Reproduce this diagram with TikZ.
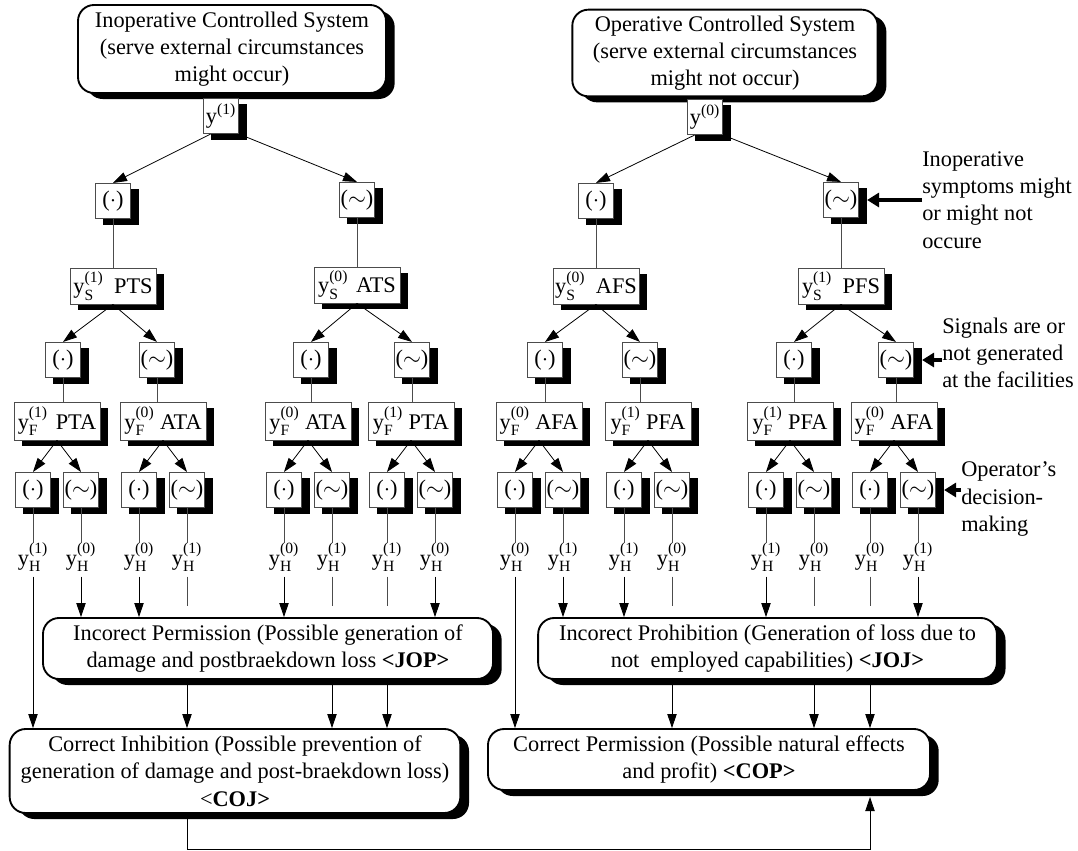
\documentclass[tikz,border=0pt]{standalone}
\usepackage{amsmath}
\usepackage{fontspec}
\setmainfont{Liberation Serif}
\usetikzlibrary{arrows.meta,shadows}

\newcommand{\ylab}[2]{$\mathrm{y}^{\text{(#1)}}_{\text{#2}}$}

\tikzset{
    sbox/.style={draw=black!70, line width=0.6pt, fill=white, inner sep=0pt,
        minimum width=26.5pt, minimum height=26.5pt,
        drop shadow={shadow xshift=6pt, shadow yshift=-4.5pt, fill=black, opacity=1}},
    symbox/.style={sbox, minimum width=64.5pt, minimum height=27pt},
    facbox/.style={sbox, minimum width=64.5pt, minimum height=28.5pt},
    rbox/.style={draw, line width=1.4pt, fill=white, rounded corners=12pt,
        align=center, inner sep=2pt,
        drop shadow={shadow xshift=6.5pt, shadow yshift=-4.5pt, fill=black, opacity=1}},
    hlab/.style={inner sep=0pt},
    ann/.style={align=left, anchor=west, inner sep=0pt},
    arr/.style={-{Triangle[length=10.5pt,width=7pt]}, line width=0.6pt},
    ln/.style={line width=0.6pt, black!70},
    annarr/.style={-{Triangle[length=9pt,width=10.5pt]}, line width=2.8pt}
}

\begin{document}
\begin{tikzpicture}[x=0.75pt, y=-0.75pt, font=\fontsize{16.75}{20.5}\selectfont]
    \useasboundingbox (0,0) rectangle (1078,850);

    \node[rbox, minimum width=231pt, minimum height=66pt] (sysL) at (232,49)
        {Inoperative Controlled System\\(serve external circumstances\\might occur)};
    \node[rbox, minimum width=229pt, minimum height=65pt] (sysR) at (725,53)
        {Operative Controlled System\\(serve external circumstances\\might not occur)};

    \node[sbox] (yL) at (221,116) {$\mathrm{y}^{\text{(1)}}$};
    \node[sbox] (yR) at (705,117) {$\mathrm{y}^{\text{(0)}}$};

    \node[sbox] (aL) at (113,201) {($\cdot$)};
    \node[sbox] (bL) at (357,200) {($\sim$)};
    \node[sbox] (aR) at (596,201) {($\cdot$)};
    \node[sbox] (bR) at (841,200) {($\sim$)};

    \node[symbox] (sL1) at (113,286) {\ylab{1}{S}\hspace{8pt}PTS};
    \node[symbox] (sL2) at (357,285) {\ylab{0}{S}\hspace{6pt}ATS};
    \node[symbox] (sR1) at (596,286) {\ylab{0}{S}\hspace{8pt}AFS};
    \node[symbox] (sR2) at (841,286) {\ylab{1}{S}\hspace{8pt}PFS};

    \node[sbox] (cL1) at (63,360) {($\cdot$)};
    \node[sbox] (cL2) at (157,360) {($\sim$)};
    \node[sbox] (cL3) at (311,360) {($\cdot$)};
    \node[sbox] (cL4) at (412,360) {($\sim$)};
    \node[sbox] (cR1) at (545,360) {($\cdot$)};
    \node[sbox] (cR2) at (640,360) {($\sim$)};
    \node[sbox] (cR3) at (794,360) {($\cdot$)};
    \node[sbox] (cR4) at (896,360) {($\sim$)};

    \node[facbox] (fL1) at (57,421) {\ylab{1}{F}\hspace{6pt}PTA};
    \node[facbox] (fL2) at (163,421) {\ylab{0}{F} ATA};
    \node[facbox] (fL3) at (308,421) {\ylab{0}{F} ATA};
    \node[facbox] (fL4) at (411,421) {\ylab{1}{F} PTA};
    \node[facbox] (fR1) at (539,421) {\ylab{0}{F} AFA};
    \node[facbox] (fR2) at (648,421) {\ylab{1}{F} PFA};
    \node[facbox] (fR3) at (790,421) {\ylab{1}{F} PFA};
    \node[facbox] (fR4) at (894,421) {\ylab{0}{F} AFA};

    \foreach \x/\v [count=\i] in {33/1,81/0,139/0,187/1,284/0,332/1,387/1,435/0,
                                  515/0,563/1,624/1,672/0,766/1,814/0,870/0,918/1} {
        \node[sbox] (l\i) at (\x,490) {\ifodd\i ($\cdot$)\else ($\sim$)\fi};
        \node[hlab] (h\i) at (\x,557) {\ylab{\v}{H}};
        \draw[ln] (l\i.south) -- (h\i.north);
    }

    \node[rbox, minimum width=337.5pt, minimum height=45.75pt] (IP) at (268,648.5)
        {Incorect Permission (Possible generation of\\damage and postbraekdown loss \textbf{<JOP>}};
    \node[rbox, minimum width=344pt, minimum height=45.75pt] (IJ) at (767.5,648.5)
        {Incorect Prohibition (Generation of loss due to\\not\ \ employed capabilities) \textbf{<JOJ>}};
    \node[rbox, minimum width=338pt, minimum height=63pt] (CI) at (235,771)
        {Correct Inhibition (Possible prevention of\\generation of damage and post-braekdown loss)\\<\textbf{COJ>}};
    \node[rbox, minimum width=331.5pt, minimum height=45.75pt] (CP) at (709,759.5)
        {Correct Permission (Possible natural effects\\and profit) \textbf{<COP>}};

    \node[ann] (annS) at (922,200) {Inoperative\\symptoms might\\or might not\\occure};
    \node[ann] (annF) at (942,353) {Signals are or\\not generated\\at the facilities};
    \node[ann] (annH) at (961,499) {Operator’s\\decision-\\making};

    \draw[arr] (yL.-120) -- (aL.north);
    \draw[arr] (yL.-45) -- (bL.north);
    \draw[arr] (yR.-120) -- (aR.north);
    \draw[arr] (yR.-45) -- (bR.north);

    \draw[ln] (aL.south) -- (aL |- sL1.north);
    \draw[ln] (bL.south) -- (bL |- sL2.north);
    \draw[ln] (aR.south) -- (aR |- sR1.north);
    \draw[ln] (bR.south) -- (bR |- sR2.north);

    \draw[arr] (sL1.south) -- (cL1.north);
    \draw[arr] (sL1.south) -- (cL2.north);
    \draw[arr] (sL2.south) -- (cL3.north);
    \draw[arr] (sL2.south) -- (cL4.north);
    \draw[arr] (sR1.south) -- (cR1.north);
    \draw[arr] (sR1.south) -- (cR2.north);
    \draw[arr] (sR2.south) -- (cR3.north);
    \draw[arr] (sR2.south) -- (cR4.north);

    \draw[ln] (cL1.south) -- (cL1 |- fL1.north);
    \draw[ln] (cL2.south) -- (cL2 |- fL2.north);
    \draw[ln] (cL3.south) -- (cL3 |- fL3.north);
    \draw[ln] (cL4.south) -- (cL4 |- fL4.north);
    \draw[ln] (cR1.south) -- (cR1 |- fR1.north);
    \draw[ln] (cR2.south) -- (cR2 |- fR2.north);
    \draw[ln] (cR3.south) -- (cR3 |- fR3.north);
    \draw[ln] (cR4.south) -- (cR4 |- fR4.north);

    \draw[arr] (fL1.south) -- (l1.north);
    \draw[arr] (fL1.south) -- (l2.north);
    \draw[arr] (fL2.south) -- (l3.north);
    \draw[arr] (fL2.south) -- (l4.north);
    \draw[arr] (fL3.south) -- (l5.north);
    \draw[arr] (fL3.south) -- (l6.north);
    \draw[arr] (fL4.south) -- (l7.north);
    \draw[arr] (fL4.south) -- (l8.north);
    \draw[arr] (fR1.south) -- (l9.north);
    \draw[arr] (fR1.south) -- (l10.north);
    \draw[arr] (fR2.south) -- (l11.north);
    \draw[arr] (fR2.south) -- (l12.north);
    \draw[arr] (fR3.south) -- (l13.north);
    \draw[arr] (fR3.south) -- (l14.north);
    \draw[arr] (fR4.south) -- (l15.north);
    \draw[arr] (fR4.south) -- (l16.north);

    \foreach \i in {2,3,5,8}
        \draw[arr, shorten <=4pt] (h\i.south) -- (h\i |- IP.north);
    \foreach \i in {10,11,13,16}
        \draw[arr, shorten <=4pt] (h\i.south) -- (h\i |- IJ.north);
    \foreach \i in {4,6,7} {
        \draw[ln, shorten <=4pt] (h\i.south) -- ([yshift=8pt]h\i |- IP.north);
        \draw[arr] (IP.south -| h\i) -- (CI.north -| h\i);
    }
    \foreach \i in {12,14,15} {
        \draw[ln, shorten <=4pt] (h\i.south) -- ([yshift=8pt]h\i |- IJ.north);
        \draw[arr] (IJ.south -| h\i) -- (CP.north -| h\i);
    }
    \draw[arr, shorten <=4pt] (h1.south) -- (h1 |- CI.north);
    \draw[arr, shorten <=4pt] (h9.south) -- (h9 |- CP.north);

    \coordinate (fb) at (870,849);
    \coordinate (fbtip) at (870,797);
    \draw[arr] (CI.south -| h4) |- (fb) -- (fbtip);

    \draw[annarr] (annS.west |- bR) -- ([xshift=6pt]bR.east);
    \draw[annarr] (annF.west |- cR4) -- ([xshift=6pt]cR4.east);
    \draw[annarr] (annH.west |- l16) -- ([xshift=6pt]l16.east);
\end{tikzpicture}
\end{document}
